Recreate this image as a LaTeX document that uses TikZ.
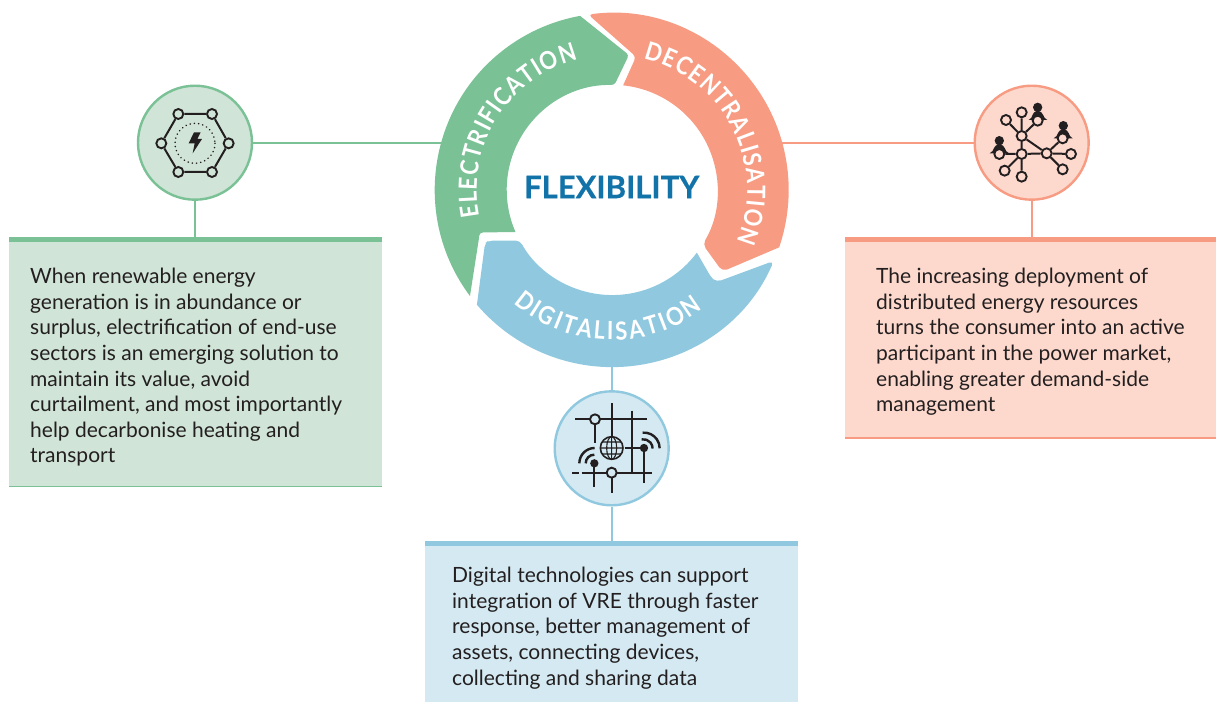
\documentclass[tikz,border=0pt]{standalone}
\usepackage{fontspec}
\setmainfont{Lato}
\newfontfamily\ringfont[FakeStretch=0.88]{Lato}
\newfontfamily\flexfont[BoldFeatures={FakeBold=0.5}]{Lato}
\usetikzlibrary{decorations.text}
\definecolor{gr}{HTML}{7AC196}
\definecolor{orr}{HTML}{F79B82}
\definecolor{blu}{HTML}{90C9DF}
\definecolor{lgr}{HTML}{D0E4D7}
\definecolor{lor}{HTML}{FDD9CD}
\definecolor{lbl}{HTML}{D4E9F1}
\definecolor{flex}{HTML}{1273A9}
\definecolor{ink}{HTML}{231F20}
\tikzset{
 x=1pt,y=-1pt,
 bodytext/.style={anchor=north west,inner sep=0pt,align=left,text=ink,font=\fontsize{21}{25.6}\selectfont},
 iconcircle/.style={circle,draw,line width=2.4pt,minimum size=114pt,inner sep=0pt},
 link/.style={line width=1.6pt},
 inkline/.style={draw=ink,line width=2pt},
 dotopen/.style={circle,draw=ink,line width=1.9pt,inner sep=0pt,minimum size=10pt},
 ringtext/.style={decorate,decoration={text along path,text align={fit to path},text={|\ringfont\bfseries\fontsize{25}{25}\selectfont\color{white}|#1}}},
}
\begin{document}
\begin{tikzpicture}
\useasboundingbox (0,0) rectangle (1216,702);
% boxes
\fill[lgr] (9,237) rectangle (382,487);
\fill[gr] (9,237) rectangle (382,242);
\fill[gr] (9,485.8) rectangle (382,487.2);
\fill[lor] (845,237) rectangle (1216,439);
\fill[orr] (845,237) rectangle (1216,242);
\fill[orr] (845,437) rectangle (1216,439);
\fill[lbl] (425,541) rectangle (798,702);
\fill[blu] (425,541) rectangle (798,546);
\coordinate (gb) at (195,237);
\coordinate (ob) at (1031.7,237);
\coordinate (bb) at (611.7,541);
\coordinate (gr1) at (445,142.7);
\coordinate (or1) at (780,142.7);
\coordinate (bl1) at (611.7,362);
% circles
\node[iconcircle,draw=gr,fill=lgr] (gc) at (195,142.7) {};
\node[iconcircle,draw=orr,fill=lor] (oc) at (1031.7,142.7) {};
\node[iconcircle,draw=blu,fill=lbl] (bc) at (611.7,448.3) {};
\draw[link,gr] (gc) -- (gr1);
\draw[link,gr] (gc) -- (gb);
\draw[link,orr] (oc) -- (or1);
\draw[link,orr] (oc) -- (ob);
\draw[link,blu] (bc) -- (bl1);
\draw[link,blu] (bc) -- (bb);
% ring
\begin{scope}[shift={(611.7,190)},x=1pt,y=1pt]
\fill[gr] (216.8:177) arc[start angle=216.8,end angle=100.3,radius=177]
  [rounded corners=3pt] -- (17.2,135) -- (88.5:105) [sharp corners]
  arc[start angle=88.5,end angle=203.6,radius=105]
  [rounded corners=4pt] -- (-127.7,-42.4) -- (-132.7,-42.4) [rounded corners=0pt] -- (-132.7,-48) -- cycle;
\fill[orr] (97.6:177) arc[start angle=97.6,end angle=-18.9,radius=177]
  [rounded corners=5pt] -- (110.7,-81.5) -- (91,-54.3) [sharp corners]
  arc[start angle=-30.8,end angle=84,radius=105.5]
  [rounded corners=4pt] -- (24.3,133.3) -- cycle;
\fill[blu] (-23.6:177) arc[start angle=-23.6,end angle=-139.6,radius=177]
  [rounded corners=4pt] -- (-126.7,-53.3) -- (-123.3,-50.7) -- (-91.7,-50.7) [sharp corners]
  arc[start angle=209,end angle=323.3,radius=105.5]
  [rounded corners=5pt] -- (100,-88.3) -- (105,-92) -- cycle;
\path[ringtext={ELECTRIFICATION}] (191.3:135) arc[start angle=191.3,end angle=104.5,radius=135];
\path[ringtext={DECENTRALISATION}] (76.5:135.5) arc[start angle=76.5,end angle=-22.5,radius=135.5];
\path[ringtext={DIGITALISATION}] (229:150) arc[start angle=229,end angle=307.4,radius=150];
\end{scope}
\node[inner sep=0pt,text=flex,font=\flexfont\bfseries\fontsize{31}{31}\selectfont] (flexn) at (611.7,187) {FLEXIBILITY};
% body text
\node[bodytext] (gt) at (30,268) {When renewable energy\\generation is in abundance or\\surplus, electrification of end-use\\sectors is an emerging solution to\\maintain its value, avoid\\curtailment, and most importantly\\help decarbonise heating and\\transport};
\node[bodytext] (ot) at (876,268) {The increasing deployment of\\distributed energy resources\\turns the consumer into an active\\participant in the power market,\\enabling greater demand-side\\management};
\node[bodytext] (bt) at (452,567) {Digital technologies can support\\integration of VRE through faster\\response, better management of\\assets, connecting devices,\\collecting and sharing data};
% green icon
\begin{scope}[shift={(120,70)},x=0.3333pt,y=-0.3333pt]
\draw[ink,line width=1.7pt,dash pattern=on 0.05pt off 4.2pt,line cap=round] (225,220) circle[radius=60];
\fill[ink] (222,187) -- (242,187) -- (232,207) -- (246,207) -- (218,250) -- (224,220) -- (206,220) -- cycle;
\node[dotopen,fill=lgr] (h1) at (124,220) {};
\node[dotopen,fill=lgr] (h2) at (175,132) {};
\node[dotopen,fill=lgr] (h3) at (276,132) {};
\node[dotopen,fill=lgr] (h4) at (326,220) {};
\node[dotopen,fill=lgr] (h5) at (276,306) {};
\node[dotopen,fill=lgr] (h6) at (175,306) {};
\draw[inkline] (h1)--(h2) (h2)--(h3) (h3)--(h4) (h4)--(h5) (h5)--(h6) (h6)--(h1);
\end{scope}
% orange icon
\begin{scope}[shift={(960,70)},x=0.3333pt,y=-0.3333pt]
\fill[ink] (233,112) circle[radius=14] (206,150) .. controls (222,144) and (212,124) .. (233,124) .. controls (254,124) and (246,144) .. (262,150) -- cycle;
\fill[ink] (310,167) circle[radius=14] (281,205) .. controls (297,199) and (289,179) .. (310,179) .. controls (331,179) and (323,199) .. (338,205) -- cycle;
\fill[ink] (118,212) circle[radius=14] (89,250) .. controls (105,244) and (97,224) .. (118,224) .. controls (139,224) and (131,244) .. (147,250) -- cycle;
\node[dotopen,fill=lor] (n1) at (185,127) {};
\node[dotopen,fill=lor] (n2) at (138,150) {};
\node[dotopen,fill=lor] (n3) at (233,152) {};
\node[dotopen,fill=lor] (n4) at (185,198) {};
\node[dotopen,fill=lor] (n5) at (185,252) {};
\node[dotopen,fill=lor] (n6) at (118,252) {};
\node[dotopen,fill=lor] (n7) at (134,302) {};
\node[dotopen,fill=lor] (n8) at (185,320) {};
\node[dotopen,fill=lor] (n9) at (260,250) {};
\node[dotopen,fill=lor] (n10) at (333,252) {};
\node[dotopen,fill=lor] (n11) at (308,298) {};
\node[dotopen,fill=lor] (n12) at (308,205) {};
\draw[inkline] (n4)--(n1) (n4)--(n2) (n4)--(n3) (n4)--(n5) (n4)--(n9) (n5)--(n6) (n5)--(n7) (n5)--(n8) (n5)--(n9) (n9)--(n10) (n9)--(n11) (n9)--(n12);
\end{scope}
% blue icon
\begin{scope}[shift={(540,380)},x=0.3333pt,y=-0.3333pt]
\draw[inkline] (105,118)--(322,118) (215,70)--(215,168) (165,118)--(165,188) (277,92)--(277,278)
 (97,278)--(118,278) (125,278)--(335,278) (163,250)--(163,320) (215,278)--(215,338) (255,204)--(312,204) (312,204)--(312,308);
\draw[ink,line width=2.4pt] (305,178) arc[start angle=-100,end angle=0,radius=28];
\draw[ink,line width=2.4pt] (308,158) arc[start angle=-95,end angle=0,radius=47];
\draw[ink,line width=2.4pt] (137,250) arc[start angle=180,end angle=270,radius=26];
\draw[ink,line width=2.4pt] (118,250) arc[start angle=180,end angle=270,radius=46];
\fill[ink] (163,250) circle[radius=12.5] (312,204) circle[radius=12.5];
\node[dotopen,fill=lbl] (b1) at (165,118) {};
\node[dotopen,fill=lbl] (b2) at (215,278) {};
\draw[ink,line width=1.6pt,fill=lbl] (215,204) circle[radius=34];
\draw[ink,line width=1.1pt] (215,204) ellipse[x radius=15,y radius=34] (215,170)--(215,238) (181,204)--(249,204) (187,186)--(243,186) (187,222)--(243,222);
\end{scope}
\end{tikzpicture}
\end{document}
